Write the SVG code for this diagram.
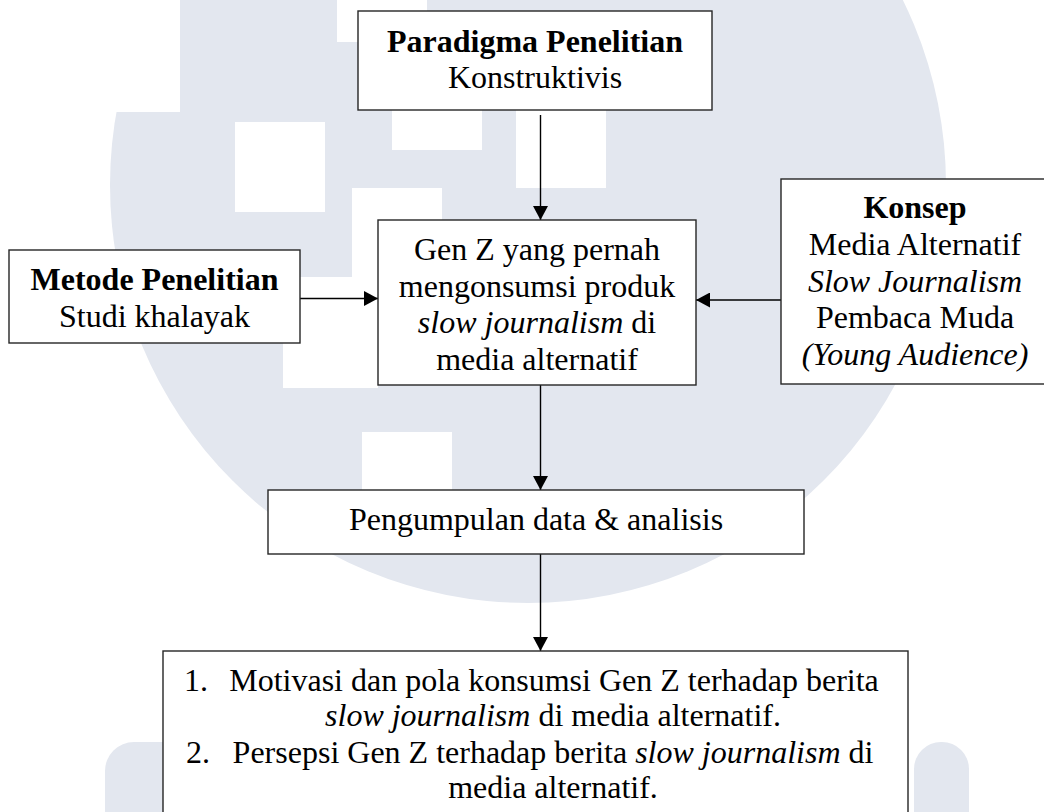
<svg xmlns="http://www.w3.org/2000/svg" width="1044" height="812" viewBox="0 0 1044 812">
<style>
  .wm { fill: #e3e7ef; }
  .wh { fill: #ffffff; }
  .box { fill: #ffffff; stroke: #262626; stroke-width: 1.4; }
  .t { font-family: "Liberation Serif", "Times New Roman", serif; font-size: 32px; fill: #000; text-anchor: middle; }
  .b { font-weight: bold; }
  .i { font-style: italic; }
  .conn { stroke: #000; stroke-width: 1.4; fill: none; marker-end: url(#arrow); }
</style>
<defs>
  <marker id="arrow" viewBox="0 0 14 15" refX="14" refY="7.5" markerWidth="14" markerHeight="15" markerUnits="userSpaceOnUse" orient="auto">
    <path d="M0,0 L14,7.5 L0,15 Z" fill="#000"/>
  </marker>
</defs>
<rect width="1044" height="812" fill="#ffffff"/>
<g id="watermark">
  <circle class="wm" cx="528" cy="185" r="418"/>
  <rect class="wh" x="0" y="0" width="180" height="112"/>
  <rect class="wh" x="337" y="-48" width="90" height="90"/>
  <rect class="wh" x="235" y="122" width="90" height="90"/>
  <rect class="wh" x="392" y="60" width="90" height="90"/>
  <rect class="wh" x="516" y="98" width="90" height="90"/>
  <rect class="wh" x="352" y="188" width="90" height="89"/>
  <rect class="wh" x="283" y="277" width="95" height="111"/>
  <rect class="wh" x="362" y="432" width="90" height="90"/>
  <rect class="wm" x="105" y="742" width="90" height="120" rx="29"/>
  <rect class="wm" x="914" y="742" width="55" height="120" rx="27"/>
</g>
<g id="connectors">
  <line class="conn" x1="540.5" y1="115" x2="540.5" y2="220"/>
  <line class="conn" x1="300" y1="298.5" x2="378" y2="298.5"/>
  <line class="conn" x1="781" y1="300" x2="696" y2="300"/>
  <line class="conn" x1="540.5" y1="385" x2="540.5" y2="490"/>
  <line class="conn" x1="540.5" y1="554" x2="540.5" y2="651"/>
</g>
<g id="paradigma">
  <rect class="box" x="358" y="11" width="354" height="99"/>
  <text class="t b" x="535" y="52">Paradigma Penelitian</text>
  <text class="t" x="535" y="88">Konstruktivis</text>
</g>
<g id="metode">
  <rect class="box" x="9" y="250" width="291" height="93"/>
  <text class="t b" x="154.5" y="290">Metode Penelitian</text>
  <text class="t" x="154.5" y="327">Studi khalayak</text>
</g>
<g id="genz">
  <rect class="box" x="378" y="220" width="318" height="165"/>
  <text class="t" x="537" y="260">Gen Z yang pernah</text>
  <text class="t" x="537" y="296.7">mengonsumsi produk</text>
  <text class="t" x="537" y="333.3"><tspan class="i">slow journalism</tspan> di</text>
  <text class="t" x="537" y="370">media alternatif</text>
</g>
<g id="konsep">
  <rect class="box" x="781" y="179" width="270" height="205"/>
  <text class="t b" x="915" y="218">Konsep</text>
  <text class="t" x="915" y="255">Media Alternatif</text>
  <text class="t i" x="915" y="292">Slow Journalism</text>
  <text class="t" x="915" y="328">Pembaca Muda</text>
  <text class="t i" x="915" y="365">(Young Audience)</text>
</g>
<g id="pengumpulan">
  <rect class="box" x="268" y="490" width="536" height="64"/>
  <text class="t" x="536" y="530">Pengumpulan data &amp; analisis</text>
</g>
<g id="hasil">
  <rect class="box" x="163" y="651" width="745" height="180"/>
  <text class="t" x="184" y="691" text-anchor="start" style="text-anchor:start">1.</text>
  <text class="t" x="554" y="691">Motivasi dan pola konsumsi Gen Z terhadap berita</text>
  <text class="t" x="553" y="726"><tspan class="i">slow journalism</tspan> di media alternatif.</text>
  <text class="t" x="186" y="763" style="text-anchor:start">2.</text>
  <text class="t" x="553" y="763">Persepsi Gen Z terhadap berita <tspan class="i">slow journalism</tspan> di</text>
  <text class="t" x="553" y="798">media alternatif.</text>
</g>
</svg>
